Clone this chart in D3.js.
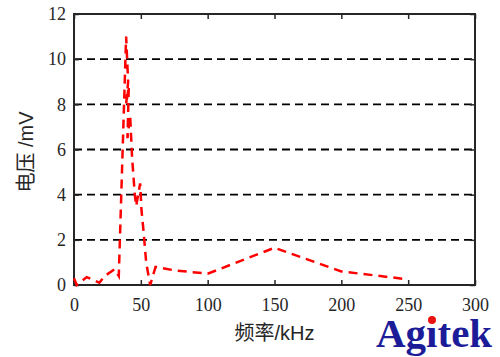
<!DOCTYPE html>
<html>
<head>
<meta charset="utf-8">
<script src="https://cdn.jsdelivr.net/npm/d3@7"></script>
<style>
  body { margin: 0; background: #fff; }
  svg { display: block; }
</style>
</head>
<body>
<div id="chart"></div>
<script>
// Chart dimensions and margins.
const width = 500;
const height = 357;
const margin = { top: 14, right: 25, bottom: 72, left: 74 };

// Data.
const freq = [0, 2, 9.5, 19, 23, 30.5, 33.5, 39, 40.5, 39, 41, 40, 42, 43.5, 45.5, 46.5, 49.5, 50.5, 52, 54, 57, 61, 75, 100, 150, 200, 250];
const volt = [0.3, 0, 0.35, 0.1, 0.4, 0.7, 0.4, 11.0, 9.0, 8.0, 8.8, 6.5, 7.5, 5.6, 4.0, 3.5, 4.5, 3.3, 2.4, 1.0, 0, 0.8, 0.65, 0.5, 1.65, 0.6, 0.25];
const xTicks = [0, 50, 100, 150, 200, 250, 300];
const yTicks = [0, 2, 4, 6, 8, 10, 12];
const gridValues = [2, 4, 6, 8, 10];

const data = freq.map((f, i) => ({ f: f, v: volt[i] }));

const svg = d3.select("#chart").append("svg")
    .attr("width", width)
    .attr("height", height);

const x = d3.scaleLinear()
    .domain([0, 300])
    .range([margin.left, width - margin.right]);

const y = d3.scaleLinear()
    .domain([0, 12])
    .range([height - margin.bottom, margin.top]);

const axisColor = "#262626";
const tickFont = "'Liberation Serif', 'Times New Roman', serif";

// Dashed horizontal grid
svg.append("g")
    .selectAll("line")
    .data(gridValues)
    .enter()
    .append("line")
    .attr("x1", x(0))
    .attr("x2", x(300))
    .attr("y1", d => y(d))
    .attr("y2", d => y(d))
    .attr("stroke", "#000")
    .attr("stroke-width", 1.8)
    .attr("stroke-dasharray", "8,5");

// Axes (ticks point inward)
const xAxis = svg.append("g")
    .attr("transform", `translate(0,${y(0)})`)
    .call(d3.axisBottom(x).tickValues(xTicks).tickSize(-5).tickPadding(13));

const xTop = svg.append("g")
    .attr("transform", `translate(0,${y(12)})`)
    .call(d3.axisTop(x).tickValues(xTicks).tickSize(-5).tickFormat(""));

const yAxis = svg.append("g")
    .attr("transform", `translate(${x(0)},0)`)
    .call(d3.axisLeft(y).tickValues(yTicks).tickSize(-5).tickPadding(8));

const yRight = svg.append("g")
    .attr("transform", `translate(${x(300)},0)`)
    .call(d3.axisRight(y).tickValues(yTicks).tickSize(-5).tickFormat(""));

[xAxis, xTop, yAxis, yRight].forEach(g => {
    g.select(".domain").remove();
    g.selectAll(".tick line").attr("stroke", axisColor).attr("stroke-width", 1.5);
    g.selectAll(".tick text")
        .attr("fill", axisColor)
        .style("font-family", tickFont)
        .style("font-size", "18px");
});

// Box around the plot
svg.append("rect")
    .attr("x", x(0))
    .attr("y", y(12))
    .attr("width", x(300) - x(0))
    .attr("height", y(0) - y(12))
    .attr("fill", "none")
    .attr("stroke", axisColor)
    .attr("stroke-width", 2);

// Red dashed curve
const line = d3.line()
    .x(d => x(d.f))
    .y(d => y(d.v));

svg.append("path")
    .datum(data)
    .attr("d", line)
    .attr("fill", "none")
    .attr("stroke", "#ff0000")
    .attr("stroke-width", 2.5)
    .attr("stroke-dasharray", "9,6");

// Axis titles
svg.append("text")
    .attr("x", (x(0) + x(300)) / 2)
    .attr("y", 340)
    .attr("text-anchor", "middle")
    .attr("fill", axisColor)
    .style("font-family", "'Liberation Sans', Arial, 'Noto Sans CJK SC', sans-serif")
    .style("font-size", "20px")
    .text("频率/kHz");

svg.append("text")
    .attr("transform", `translate(33,152) rotate(-90)`)
    .attr("text-anchor", "middle")
    .attr("fill", axisColor)
    .style("font-family", "'Liberation Sans', Arial, 'Noto Sans CJK SC', sans-serif")
    .style("font-size", "20px")
    .text("电压 /mV");

// Agitek logo
svg.append("text")
    .attr("x", 376)
    .attr("y", 347)
    .attr("fill", "#1c1c99")
    .style("font-family", "'Liberation Serif', 'Times New Roman', serif")
    .style("font-weight", "bold")
    .style("font-size", "41px")
    .text("Ag\u0131tek");

svg.append("circle")
    .attr("cx", 432)
    .attr("cy", 320)
    .attr("r", 4)
    .attr("fill", "#ee1111");
</script>
</body>
</html>
